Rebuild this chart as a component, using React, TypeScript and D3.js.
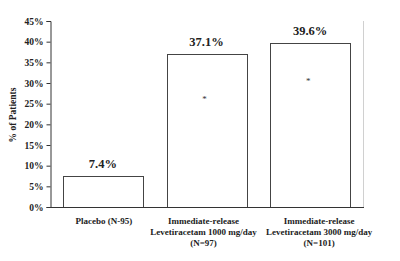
import React, { useEffect, useRef } from "react";
import * as d3 from "d3";

const groups = ["placebo", "lev1000", "lev3000"];
const groupLabels = [
  ["Placebo (N-95)"],
  ["Immediate-release", "Levetiracetam 1000 mg/day", "(N=97)"],
  ["Immediate-release", "Levetiracetam 3000 mg/day", "(N=101)"],
];
const responderRates = [7.4, 37.1, 39.6];
const significant = [false, true, true];
const starLevels = [0, 26.6, 31];
const yTicks = [0, 5, 10, 15, 20, 25, 30, 35, 40, 45];

const W = 400;
const H = 261;
const FONT = "'Liberation Serif', 'Times New Roman', serif";

const App = () => {
  const ref = useRef<SVGSVGElement>(null);

  useEffect(() => {
    document.body.style.margin = "0";
    const svg = d3.select(ref.current);
    svg.selectAll("*").remove();

    const left = 50;
    const right = 363;
    const top = 21;
    const bottom = 207;

    const x = d3
      .scaleBand()
      .domain(groups)
      .range([left, right])
      .paddingInner(0.23)
      .paddingOuter(0.125);
    const y = d3.scaleLinear().domain([0, 45]).range([bottom, top]);

    // light border on the right of the plot area
    svg
      .append("line")
      .attr("x1", right + 0.5)
      .attr("x2", right + 0.5)
      .attr("y1", top)
      .attr("y2", bottom)
      .attr("stroke", "#d0d0d0");

    svg
      .selectAll(".bar")
      .data(responderRates)
      .enter()
      .append("rect")
      .attr("x", (d, i) => Math.round(x(groups[i])!) + 0.5)
      .attr("y", (d) => Math.round(y(d)) + 0.5)
      .attr("width", Math.round(x.bandwidth()))
      .attr("height", (d) => Math.round(bottom - y(d)))
      .attr("fill", "#fff")
      .attr("stroke", "#444")
      .attr("stroke-width", 1);

    svg
      .selectAll(".val")
      .data(responderRates)
      .enter()
      .append("text")
      .attr("x", (d, i) => x(groups[i])! + x.bandwidth() / 2)
      .attr("y", (d) => y(d) - 8)
      .attr("text-anchor", "middle")
      .attr("font-family", FONT)
      .attr("font-weight", "bold")
      .attr("font-size", 12.5)
      .attr("fill", "#222")
      .text((d) => `${d.toFixed(1)}%`);

    svg
      .selectAll(".star")
      .data(groups.filter((g, i) => significant[i]))
      .enter()
      .append("text")
      .attr("x", (g) => x(g)! + x.bandwidth() / 2 - 2)
      .attr("y", (g) => y(starLevels[groups.indexOf(g)]) + 5)
      .attr("text-anchor", "middle")
      .attr("font-family", FONT)
      .attr("font-size", 9)
      .attr("fill", "#333")
      .text("*");

    const yAxis = svg
      .append("g")
      .attr("transform", `translate(${left + 0.5},0)`)
      .call(
        d3
          .axisLeft(y)
          .tickValues(yTicks)
          .tickSize(4)
          .tickFormat((d) => `${d}%`)
      );
    yAxis.select(".domain").attr("stroke", "#333");
    yAxis.selectAll(".tick line").attr("stroke", "#333");
    yAxis
      .selectAll(".tick text")
      .attr("x", -7)
      .attr("font-family", FONT)
      .attr("font-weight", "bold")
      .attr("font-size", 9.5)
      .attr("fill", "#222");

    svg
      .append("line")
      .attr("x1", left)
      .attr("x2", right + 1)
      .attr("y1", bottom + 0.5)
      .attr("y2", bottom + 0.5)
      .attr("stroke", "#333");

    const labelShift = [1, -3, 9];
    const lab = svg
      .selectAll(".xlab")
      .data(groupLabels)
      .enter()
      .append("text")
      .attr("text-anchor", "middle")
      .attr("font-family", FONT)
      .attr("font-weight", "bold")
      .attr("font-size", 9)
      .attr("fill", "#222");
    lab
      .selectAll("tspan")
      .data((d, i) => d.map((t) => ({ t, i })))
      .enter()
      .append("tspan")
      .attr("x", (d) => x(groups[d.i])! + x.bandwidth() / 2 + labelShift[d.i])
      .attr("y", (d, j) => 224 + j * 11)
      .text((d) => d.t);

    svg
      .append("text")
      .attr("transform", `translate(16,115) rotate(-90)`)
      .attr("text-anchor", "middle")
      .attr("font-family", FONT)
      .attr("font-weight", "bold")
      .attr("font-size", 9.5)
      .attr("fill", "#222")
      .text("% of Patients");
  }, []);

  return <svg ref={ref} width={W} height={H} style={{ display: "block", background: "#fff" }}></svg>;
};

export default App;
